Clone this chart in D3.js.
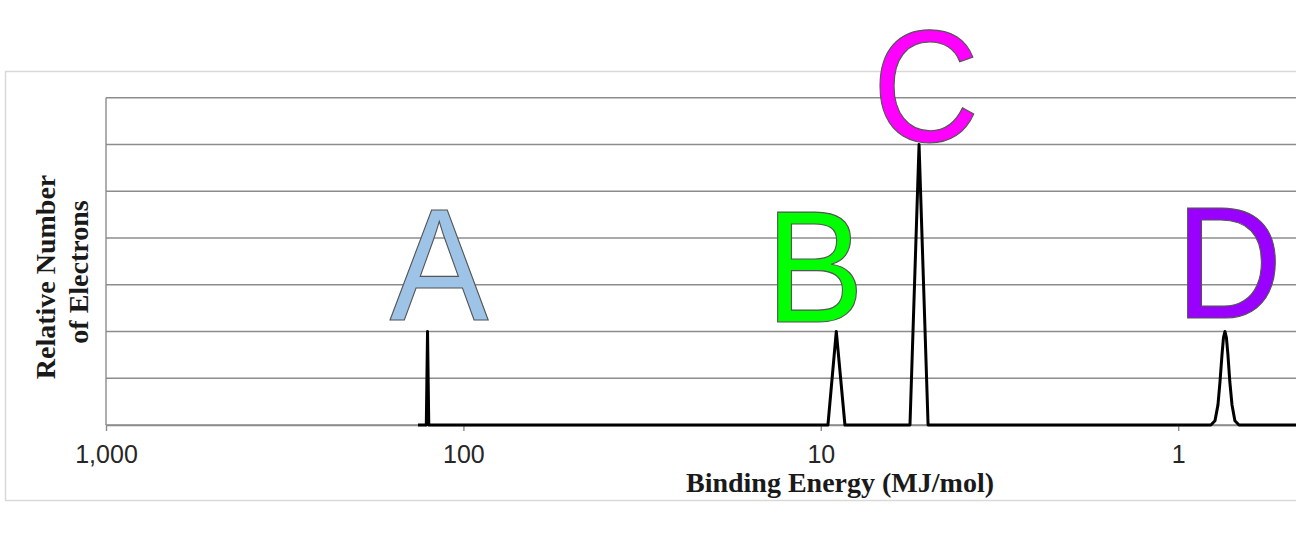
<!DOCTYPE html>
<html>
<head>
<meta charset="utf-8">
<script src="https://cdn.jsdelivr.net/npm/d3@7"></script>
<style>
  html, body { margin: 0; padding: 0; background: #fff; overflow: hidden; }
</style>
</head>
<body>
<script>
// binding energy (MJ/mol) and relative number of electrons
var energies = [134, 127, 126, 125, 9.55, 9.05, 8.56, 5.63, 5.31, 5.01,
                0.810, 0.789, 0.774, 0.764, 0.754, 0.747, 0.740, 0.733, 0.726, 0.717, 0.707, 0.694, 0.676, 0.40];
var counts   = [0, 0, 2, 0, 0, 2, 0, 0, 6, 0,
                0, 0.09, 0.43, 0.92, 1.51, 1.87, 2, 1.87, 1.51, 0.92, 0.43, 0.09, 0, 0];

var peakLabels  = ["A", "B", "C", "D"];
var peakEnergy  = [126, 9.05, 5.31, 0.740];
var peakHeight  = [2, 2, 6, 2];
var labelColors = ["#9dc3e6", "#00ff00", "#ff00ff", "#9900ff"];

var xTicks = [1000, 100, 10, 1];
var yGrid  = [0, 1, 2, 3, 4, 5, 6, 7];

var width = 1296, height = 536;

var svg = d3.select("body").append("svg")
    .attr("width", width)
    .attr("height", height);

// outer chart frame
svg.append("rect")
    .attr("x", 5.5).attr("y", 71.5)
    .attr("width", 1400).attr("height", 429)
    .attr("fill", "none")
    .attr("stroke", "#d9d9d9")
    .attr("stroke-width", 1.5);

var decade = 357.4;
var x = d3.scaleLog()
    .domain([1000, 0.1])
    .range([106, 106 + 4 * decade]);

var y = d3.scaleLinear()
    .domain([0, 7])
    .range([425, 97.7]);

// gridlines
svg.append("g").selectAll("line")
    .data(yGrid)
    .enter().append("line")
        .attr("x1", x(1000)).attr("x2", x(0.1))
        .attr("y1", function(d){ return y(d); })
        .attr("y2", function(d){ return y(d); })
        .attr("stroke", "#8c8c8c")
        .attr("stroke-width", 1.4);

// left axis line
svg.append("line")
    .attr("x1", x(1000)).attr("x2", x(1000))
    .attr("y1", y(0)).attr("y2", y(7))
    .attr("stroke", "#8c8c8c")
    .attr("stroke-width", 1.4);

// x axis
var xAxis = d3.axisBottom(x)
    .tickValues(xTicks)
    .tickFormat(d3.format(","))
    .tickSize(6)
    .tickSizeOuter(0)
    .tickPadding(14);

var gx = svg.append("g")
    .attr("transform", "translate(0," + y(0) + ")")
    .call(xAxis);
gx.select(".domain").attr("stroke", "#8c8c8c").attr("stroke-width", 1.4);
gx.selectAll(".tick line").attr("stroke", "#8c8c8c").attr("stroke-width", 1.4);
gx.selectAll(".tick text")
    .attr("font-family", "'Liberation Sans', Arial, sans-serif")
    .attr("font-size", 25)
    .attr("fill", "#262626");

// spectrum
var points = energies.map(function(e, i){ return [e, counts[i]]; });
var line = d3.line()
    .x(function(d){ return x(d[0]); })
    .y(function(d){ return y(d[1]); });

svg.append("path")
    .datum(points)
    .attr("d", line)
    .attr("fill", "none")
    .attr("stroke", "#000")
    .attr("stroke-width", 3)
    .attr("stroke-linejoin", "round");

// peak letters (a touch taller than wide, like the original)
var labelDx = [11.5, -21.5, 7, 4];
var labelDy = [-11, -9, -3, -13];
svg.append("g").selectAll("text")
    .data(peakLabels)
    .enter().append("text")
        .attr("transform", function(d, i){
            return "translate(" + (x(peakEnergy[i]) + labelDx[i]) + "," + (y(peakHeight[i]) + labelDy[i]) + ") scale(1,1.08)";
        })
        .attr("text-anchor", "middle")
        .attr("font-family", "'Liberation Sans', Arial, sans-serif")
        .attr("font-size", 148)
        .attr("fill", function(d, i){ return labelColors[i]; })
        .attr("stroke", "#555")
        .attr("stroke-width", 1.1)
        .text(function(d){ return d; });

// axis titles
var serif = "'Liberation Serif', 'Times New Roman', serif";
svg.append("text")
    .attr("x", 840).attr("y", 492)
    .attr("text-anchor", "middle")
    .attr("font-family", serif)
    .attr("font-weight", "bold")
    .attr("font-size", 28)
    .attr("fill", "#1a1a1a")
    .text("Binding Energy (MJ/mol)");

var yTitle = svg.append("text")
    .attr("transform", "rotate(-90)")
    .attr("text-anchor", "middle")
    .attr("font-family", serif)
    .attr("font-weight", "bold")
    .attr("font-size", 28)
    .attr("fill", "#1a1a1a");
yTitle.append("tspan")
    .attr("x", -277).attr("y", 55)
    .text("Relative Number");
yTitle.append("tspan")
    .attr("x", -272).attr("y", 88)
    .text("of  Electrons");
</script>
</body>
</html>
